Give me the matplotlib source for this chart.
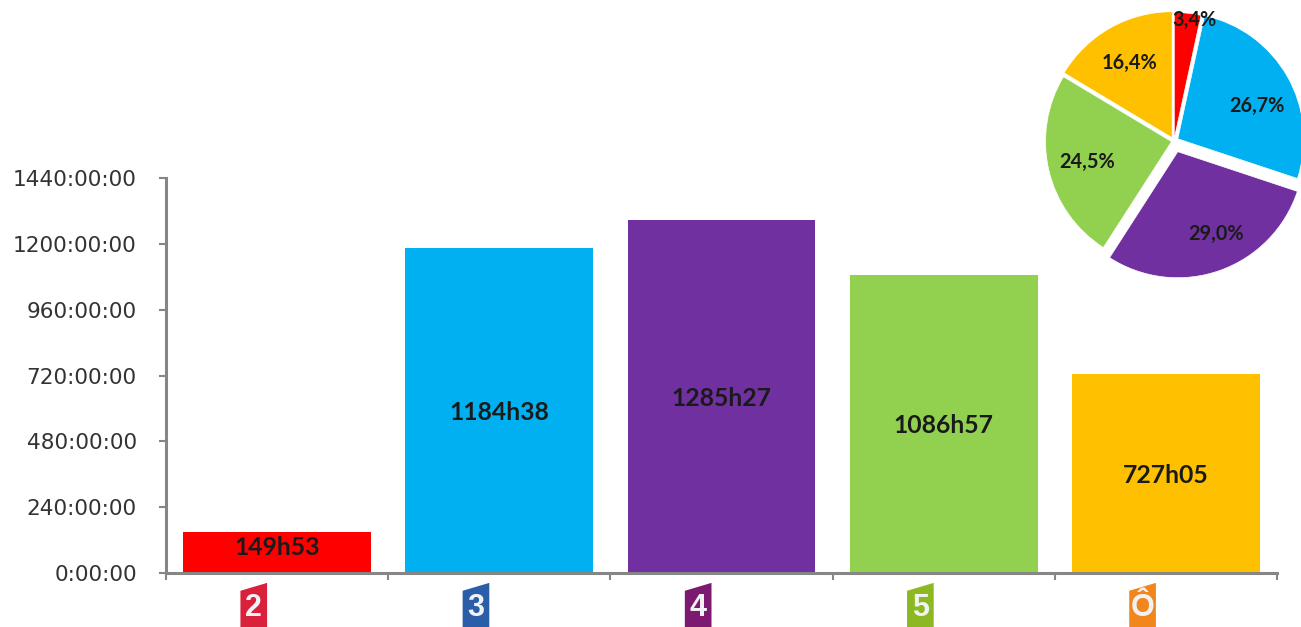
import matplotlib
matplotlib.use('Agg')
import matplotlib.pyplot as plt
from matplotlib.patches import Polygon
from matplotlib.ticker import FuncFormatter
from matplotlib.transforms import blended_transform_factory

chaines = ['2', '3', '4', '5', 'Ô']
heures = [149.88, 1184.63, 1285.45, 1086.95, 727.08]
etiquettes = ['149h53', '1184h38', '1285h27', '1086h57', '727h05']
couleurs = ['#ff0000', '#00b0f0', '#7030a0', '#92d050', '#ffc000']
couleurs_logo = ['#d9213c', '#2a5ea8', '#7b1a70', '#8cb922', '#f0861c']

parts = [3.4, 26.7, 29.0, 24.5, 16.4]
parts_txt = ['3,4%', '26,7%', '29,0%', '24,5%', '16,4%']
ecarts = [0.02, 0.035, 0.09, 0.02, 0.03]

W, H = 1301, 627
GRIS = '#868686'


def cadre(x0, y0, x1, y1):
    # pixels de l'image (y vers le bas) -> coordonnees de la figure
    return [x0 / W, 1 - y1 / H, (x1 - x0) / W, (y1 - y0) / H]


def logo(ax, i, couleur, chiffre):
    # petit logo de chaine sous l'axe, coupe par le bas de l'image
    tr = blended_transform_factory(ax.transData, ax.transAxes)
    x0, x1 = i - 0.165, i - 0.045
    pts = [(x0, -0.045), (x1, -0.025), (x1, -0.15), (x0, -0.15)]
    ax.add_patch(Polygon(pts, closed=True, transform=tr, color=couleur, clip_on=False, lw=0))
    ax.text((x0 + x1) / 2, -0.088, chiffre, transform=tr, color='#f2f2f2', ha='center', va='center',
            fontsize=22, fontweight='bold', family='Liberation Sans', clip_on=False)


fig = plt.figure(figsize=(W / 100, H / 100), dpi=100)

ax = fig.add_axes(cadre(166, 178, 1277, 573))
x = list(range(len(chaines)))
ax.bar(x, heures, width=0.845, color=couleurs, zorder=2)
ax.set_xlim(-0.5, 4.5)
ax.set_ylim(0, 1440)
ax.set_yticks([0, 240, 480, 720, 960, 1200, 1440])
ax.yaxis.set_major_formatter(FuncFormatter(lambda v, p: '%d:00:00' % v))
ax.set_xticks([-0.5, 0.5, 1.5, 2.5, 3.5, 4.5])
ax.set_xticklabels([])
ax.tick_params(axis='y', labelsize=15.6, labelcolor='#333333', color=GRIS, width=1.5, length=5, pad=16)
ax.tick_params(axis='x', color=GRIS, width=1.5, length=5)
for cote in ['top', 'right']:
    ax.spines[cote].set_visible(False)
for cote in ['left', 'bottom']:
    ax.spines[cote].set_color(GRIS)
    ax.spines[cote].set_linewidth(2.2)
    ax.spines[cote].set_zorder(3)

for i, h in enumerate(heures):
    # le libelle de la petite barre reste un peu au dessus du milieu
    ax.text(i, max(h / 2, 100) - 7, etiquettes[i], ha='center', va='center', fontsize=17.8,
            fontweight='bold', family='Lato', color='#1a1a1a', zorder=4)
    logo(ax, i, couleurs_logo[i], chaines[i])

# camembert en haut a droite
ax2 = fig.add_axes(cadre(1030, 13, 1301, 290))
wedges, _ = ax2.pie(parts, colors=couleurs, startangle=90, counterclock=False, explode=ecarts,
                    radius=1, wedgeprops={'edgecolor': 'white', 'linewidth': 0.5})
ax2.set_aspect('equal')
ax2.set_xlim((1030 - 1174) / 126, (1301 - 1174) / 126)
ax2.set_ylim((141 - 290) / 126, (141 - 13) / 126)
pos_txt = [(0.165, 0.96), (0.66, 0.28), (0.33, -0.74), (-0.69, -0.17), (-0.35, 0.62)]
for p, t in zip(pos_txt, parts_txt):
    ax2.text(p[0], p[1], t, ha='center', va='center', fontsize=14.3, fontweight='bold',
             family='Lato', color='#1a1a1a')

fig.savefig('out.png', dpi=100, facecolor='white')
